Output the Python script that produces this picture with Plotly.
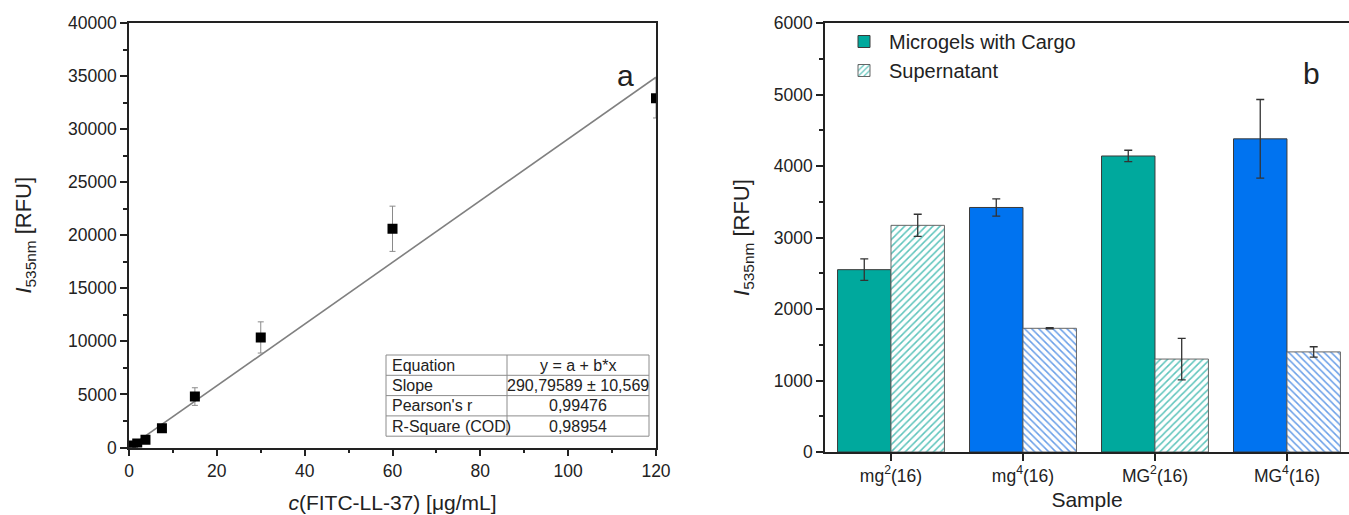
import plotly.graph_objects as go

# ---------------- Panel a data ----------------
conc = [0.47, 0.94, 1.875, 3.75, 7.5, 15, 30, 60, 120]
intensity = [90, 200, 380, 720, 1820, 4800, 10370, 20610, 32900]
intensity_err = [40, 60, 80, 120, 300, 830, 1470, 2130, 1850]
slope = 290.79589
intercept = 0.0
fit_x = [0, 120]
fit_y = [intercept + slope * v for v in fit_x]

table_col1 = ["Equation", "Slope", "Pearson's r", "R-Square (COD)"]
table_col2 = ["y = a + b*x", "290,79589 ± 10,569", "0,99476", "0,98954"]

# ---------------- Panel b data ----------------
samples = ["mg<sup>2</sup>(16)", "mg<sup>4</sup>(16)", "MG<sup>2</sup>(16)", "MG<sup>4</sup>(16)"]
cargo = [2550, 3420, 4140, 4380]
cargo_err = [150, 120, 80, 550]
supernatant = [3170, 1730, 1300, 1400]
supernatant_err = [155, 8, 290, 72]

teal = "#00A99D"
blue = "#0073F0"
teal_hatch = "#5EC4BC"
blue_hatch = "#6A9FE8"
cargo_colors = [teal, blue, teal, blue]
super_shapes = ["/", "\\", "/", "\\"]
super_fg = [teal_hatch, blue_hatch, teal_hatch, blue_hatch]

FONT = "Liberation Sans, Arial, sans-serif"
W, H = 1349, 515

fig = go.Figure()

fig.add_trace(go.Scatter(
    x=fit_x, y=fit_y, mode="lines",
    line=dict(color="#808080", width=1.6),
    showlegend=False, xaxis="x", yaxis="y"))

fig.add_trace(go.Scatter(
    x=conc, y=intensity, mode="markers",
    marker=dict(symbol="square", size=10, color="black"),
    error_y=dict(type="data", array=intensity_err, color="#8a8a8a", thickness=1, width=3),
    showlegend=False, xaxis="x", yaxis="y"))

fig.add_trace(go.Bar(
    x=samples, y=cargo, name="Microgels with Cargo",
    marker=dict(color=cargo_colors, line=dict(color="#3a3a3a", width=1)),
    error_y=dict(type="data", array=cargo_err, color="#333", thickness=1.3, width=4),
    xaxis="x2", yaxis="y2"))

fig.add_trace(go.Bar(
    x=samples, y=supernatant, name="Supernatant",
    marker=dict(color="white", line=dict(color="#666", width=1),
                pattern=dict(shape=super_shapes, fgcolor=super_fg, bgcolor="white",
                             size=5, solidity=0.3)),
    error_y=dict(type="data", array=supernatant_err, color="#333", thickness=1.3, width=4),
    xaxis="x2", yaxis="y2"))

# ---------------- fit-result table (paper coords) ----------------
t_left, t_mid, t_right = 386, 507, 649
t_top, row_h = 355, 20.3
n_rows = len(table_col1)
shapes = []
t_bottom = t_top + n_rows * row_h
shapes.append(dict(type="rect", xref="paper", yref="paper",
                   x0=t_left / W, x1=t_right / W, y0=1 - t_bottom / H, y1=1 - t_top / H,
                   line=dict(color="#8c8c8c", width=1), fillcolor="white", layer="above"))
shapes.append(dict(type="line", xref="paper", yref="paper",
                   x0=t_mid / W, x1=t_mid / W, y0=1 - t_bottom / H, y1=1 - t_top / H,
                   line=dict(color="#8c8c8c", width=1), layer="above"))
annotations = []
for i in range(n_rows):
    if i > 0:
        yy = 1 - (t_top + i * row_h) / H
        shapes.append(dict(type="line", xref="paper", yref="paper",
                           x0=t_left / W, x1=t_right / W, y0=yy, y1=yy,
                           line=dict(color="#8c8c8c", width=1), layer="above"))
    yc = 1 - (t_top + (i + 0.5) * row_h) / H
    annotations.append(dict(text=table_col1[i], x=(t_left + 4) / W, y=yc, xref="paper", yref="paper",
                            xanchor="left", yanchor="middle", showarrow=False,
                            font=dict(family=FONT, size=16, color="#222")))
    annotations.append(dict(text=table_col2[i], x=(t_mid + t_right) / 2 / W, y=yc, xref="paper",
                            yref="paper", xanchor="center", yanchor="middle", showarrow=False,
                            font=dict(family=FONT, size=16, color="#222")))

annotations += [
    dict(text="a", x=625 / W, y=1 - 57 / H, xref="paper", yref="paper",
         showarrow=False, font=dict(family=FONT, size=30, color="#222")),
    dict(text="b", x=1322 / W, y=1 - 55 / H, xref="paper", yref="paper",
         showarrow=False, font=dict(family=FONT, size=30, color="#222")),
]

axis_common = dict(showline=True, linecolor="#222", linewidth=1.6, ticks="outside",
                   tickcolor="#222", ticklen=7, tickwidth=1.5, showgrid=False, zeroline=False,
                   automargin=False,
                   tickfont=dict(family=FONT, size=17.5, color="#222"))

fig.update_layout(
    template="none",
    width=W, height=H,
    margin=dict(l=0, r=0, t=0, b=0, pad=0),
    paper_bgcolor="white", plot_bgcolor="white",
    font=dict(family=FONT, color="#222"),
    barmode="group", bargap=0.19, bargroupgap=0,
    xaxis=dict(domain=[129 / W, 656 / W], range=[0, 120], dtick=20, mirror=True,
               minor=dict(dtick=10, ticks="outside", ticklen=4, tickcolor="#222"),
               title=dict(text="<i>c</i>(FITC-LL-37) [μg/mL]", standoff=15,
                          font=dict(family=FONT, size=21, color="#222")),
               anchor="y", **axis_common),
    yaxis=dict(domain=[1 - 447.5 / H, 1 - 23 / H], range=[0, 40000], dtick=5000, mirror=True,
               tickformat="d",
               minor=dict(dtick=2500, ticks="outside", ticklen=4, tickcolor="#222"),
               title=dict(text="<i>I</i><sub>535nm</sub> [RFU]", standoff=30,
                          font=dict(family=FONT, size=22, color="#222")),
               anchor="x", **axis_common),
    xaxis2=dict(domain=[825 / W, 1.0], range=[-0.5, 3.47], type="category", mirror=True,
                title=dict(text="Sample", standoff=8,
                           font=dict(family=FONT, size=21, color="#222")),
                anchor="y2", **axis_common),
    yaxis2=dict(domain=[1 - 452 / H, 1 - 23 / H], range=[0, 6000], dtick=1000,
                tickformat="d",
                minor=dict(dtick=500, ticks="outside", ticklen=4, tickcolor="#222"),
                title=dict(text="<i>I</i><sub>535nm</sub> [RFU]", standoff=18,
                           font=dict(family=FONT, size=22, color="#222")),
                anchor="x2", **axis_common),
    legend=dict(x=839 / W, y=1 - 22 / H, xanchor="left", yanchor="top",
                bgcolor="rgba(0,0,0,0)", font=dict(family=FONT, size=20, color="#222"),
                tracegroupgap=0, itemwidth=40),
    shapes=shapes,
    annotations=annotations,
)

fig.write_html("out.html", config={"displayModeBar": False},
               post_script="document.body.style.margin='0';document.body.style.overflow='hidden';")
